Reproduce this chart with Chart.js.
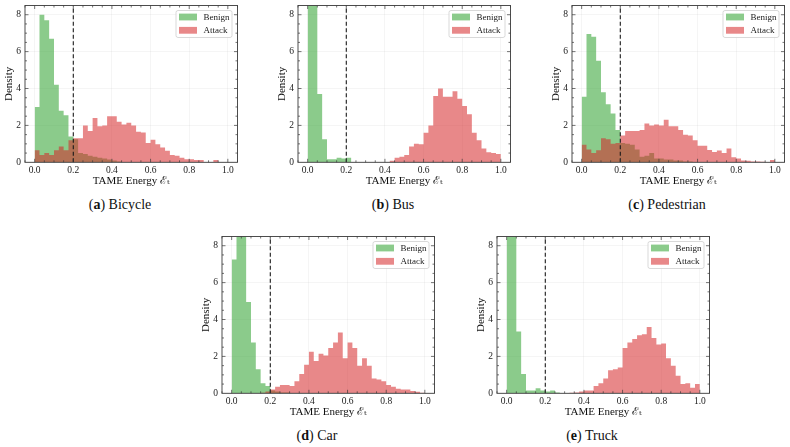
<!DOCTYPE html>
<html>
<head>
<meta charset="utf-8">
<script src="https://cdn.jsdelivr.net/npm/chart.js@4.4.0/dist/chart.umd.min.js"></script>
<style>
body { margin: 0; background: #fff; width: 790px; height: 447px; position: relative; overflow: hidden; font-family: "Liberation Serif", "DejaVu Serif", serif; }
.box { position: absolute; width: 244px; height: 190px; }
.cap { position: absolute; font-size: 14px; color: #111; transform: translateX(-50%); white-space: nowrap; }
</style>
</head>
<body>
<script>
// histogram bins: 40 bins of width 0.025 on [0, 1]
var BIN_W = 0.025;
var X_TICKS = [0, 0.2, 0.4, 0.6, 0.8, 1.0];
var Y_TICKS = [0, 2, 4, 6, 8];
var Y_MAX = 8.5;
var THRESHOLD = 0.2;

var bicycleBenign = [3.0, 8.0, 7.7, 6.7, 4.2, 2.8, 2.55, 1.4, 1.25, 0.5, 0.45, 0.35, 0.3, 0.25, 0.2, 0.15, 0.1, 0.05, 0, 0,
    0, 0, 0, 0, 0, 0, 0, 0, 0, 0, 0, 0, 0, 0, 0, 0, 0, 0, 0, 0];
var bicycleAttack = [0.65, 0.4, 0.5, 0.4, 0.65, 0.85, 0.65, 1.2, 1.3, 1.3, 2.0, 1.7, 2.4, 1.95, 2.0, 2.5, 2.5, 2.2, 2.05, 2.15,
    2.0, 1.65, 1.62, 1.05, 1.22, 0.98, 0.8, 0.62, 0.4, 0.35, 0.25, 0.16, 0.16, 0.13, 0.13, 0, 0, 0.13, 0, 0];

var busBenign = [19, 15, 3.7, 1.25, 0.17, 0.17, 0.25, 0.2, 0.25, 0, 0, 0, 0, 0, 0, 0, 0, 0, 0, 0,
    0, 0, 0, 0, 0, 0, 0, 0, 0, 0, 0, 0, 0, 0, 0, 0, 0, 0, 0, 0];
var busAttack = [0, 0, 0, 0, 0, 0, 0, 0, 0, 0, 0, 0, 0, 0, 0, 0, 0, 0.08, 0.25, 0.3,
    0.4, 0.85, 1.0, 0.98, 1.6, 2.0, 3.6, 4.0, 3.55, 3.55, 3.85, 3.45, 3.05, 2.6, 1.6, 1.2, 0.75, 0.55, 0.5, 0.45];

var pedBenign = [3.55, 6.95, 6.8, 5.5, 3.8, 3.15, 2.65, 1.75, 1.05, 1.0, 0.95, 0.7, 0.3, 0.35, 0.5, 0.2, 0.2, 0.15, 0.15, 0.1,
    0.1, 0.05, 0.05, 0, 0, 0, 0, 0, 0, 0, 0, 0, 0, 0, 0, 0, 0, 0, 0, 0];
var pedAttack = [0.95, 0.7, 0.5, 0.65, 1.3, 1.25, 1.0, 1.05, 1.45, 1.7, 1.7, 1.7, 1.75, 2.1, 2.0, 2.05, 2.0, 2.3, 1.95, 1.95,
    1.75, 1.5, 1.45, 1.2, 0.9, 0.9, 0.67, 0.56, 0.64, 0.5, 0.75, 0.27, 0.2, 0.1, 0.08, 0.05, 0.05, 0.03, 0.02, 0.12];

var carBenign = [7.25, 11.5, 11, 4.95, 2.75, 1.3, 0.55, 0.4, 0.15, 0.1, 0.05, 0.05, 0, 0, 0, 0, 0, 0, 0, 0,
    0, 0, 0, 0, 0, 0, 0, 0, 0, 0, 0, 0, 0, 0, 0, 0, 0, 0, 0, 0];
var carAttack = [0, 0, 0, 0, 0, 0, 0.03, 0.1, 0.2, 0.35, 0.45, 0.45, 0.4, 0.65, 1.05, 1.55, 2.25, 1.75, 2.15, 2.05,
    2.45, 2.75, 3.3, 1.9, 2.75, 2.45, 1.5, 1.9, 1.5, 0.8, 0.75, 0.65, 0.45, 0.35, 0.25, 0.2, 0.2, 0.12, 0.08, 0.03];

var truckBenign = [18, 16.6, 3.35, 1.05, 0.15, 0.15, 0.28, 0.15, 0.1, 0.15, 0.05, 0, 0, 0, 0, 0, 0, 0, 0, 0,
    0, 0, 0, 0, 0, 0, 0, 0, 0, 0, 0, 0, 0, 0, 0, 0, 0, 0, 0, 0];
var truckAttack = [0, 0, 0, 0, 0, 0, 0, 0, 0, 0, 0, 0, 0.02, 0.03, 0.05, 0.1, 0.15, 0.15, 0.4, 0.55,
    0.8, 1.25, 1.3, 1.4, 2.45, 2.75, 2.95, 3.15, 3.2, 3.6, 3.0, 2.65, 2.7, 1.9, 1.5, 0.95, 0.5, 0.55, 0.3, 0.5];

var GREEN = 'rgba(44, 160, 44, 0.55)';
var RED = 'rgba(214, 39, 40, 0.55)';
var SERIF = '"Liberation Serif", "DejaVu Serif", serif';

var panels = [
    {tag: 'a', name: 'Bicycle', benign: bicycleBenign, attack: bicycleAttack, left: 0, top: 0},
    {tag: 'b', name: 'Bus', benign: busBenign, attack: busAttack, left: 273, top: 0},
    {tag: 'c', name: 'Pedestrian', benign: pedBenign, attack: pedAttack, left: 547, top: 0},
    {tag: 'd', name: 'Car', benign: carBenign, attack: carAttack, left: 197, top: 231},
    {tag: 'e', name: 'Truck', benign: truckBenign, attack: truckAttack, left: 472, top: 231}
];

// step outline of a histogram: one point per left bin edge plus the closing edge at 1.0
function histPoints(vals) {
    var pts = vals.map(function(v, i) { return {x: i * BIN_W, y: v}; });
    pts.push({x: vals.length * BIN_W, y: vals[vals.length - 1]});
    return pts;
}

// frame, inward ticks (matplotlib style) and the boxed legend
var framePlugin = {
    id: 'framePlugin',
    afterDraw: function(chart) {
        var ctx = chart.ctx, a = chart.chartArea;
        var xs = chart.scales.x, ys = chart.scales.y;
        ctx.save();
        ctx.strokeStyle = '#3a3a3a';
        ctx.lineWidth = 0.9;
        ctx.strokeRect(a.left, a.top, a.right - a.left, a.bottom - a.top);

        function tickX(v, len) {
            var p = xs.getPixelForValue(v);
            ctx.beginPath();
            ctx.moveTo(p, a.bottom); ctx.lineTo(p, a.bottom - len);
            ctx.moveTo(p, a.top); ctx.lineTo(p, a.top + len);
            ctx.stroke();
        }
        function tickY(v, len) {
            var p = ys.getPixelForValue(v);
            ctx.beginPath();
            ctx.moveTo(a.left, p); ctx.lineTo(a.left + len, p);
            ctx.moveTo(a.right, p); ctx.lineTo(a.right - len, p);
            ctx.stroke();
        }
        ctx.lineWidth = 0.7;
        for (var i = -1; i <= 21; i++) {
            if (i % 4 === 0) tickX(i * 0.05, 3.5); else tickX(i * 0.05, 2);
        }
        for (var j = 1; j < 17; j++) {
            if (j % 4 === 0) tickY(j * 0.5, 3.5); else tickY(j * 0.5, 2);
        }

        // legend
        var bw = 56, bh = 27;
        var bx = a.right - 5.5 - bw, by = a.top + 5;
        ctx.beginPath();
        ctx.roundRect(bx, by, bw, bh, 2);
        ctx.fillStyle = 'rgba(255,255,255,0.85)';
        ctx.fill();
        ctx.strokeStyle = '#cfcfcf';
        ctx.lineWidth = 0.8;
        ctx.stroke();
        var items = [['Benign', GREEN], ['Attack', RED]];
        ctx.font = '9px ' + SERIF;
        ctx.textBaseline = 'middle';
        items.forEach(function(it, k) {
            var cy = by + 6.5 + k * 13.3;
            ctx.fillStyle = it[1];
            ctx.fillRect(bx + 3, cy - 3.4, 18, 6.8);
            ctx.fillStyle = '#222';
            ctx.fillText(it[0], bx + 27.5, cy + 0.5);
        });
        ctx.restore();
    }
};

panels.forEach(function(p) {
    var box = document.createElement('div');
    box.className = 'box';
    box.style.left = p.left + 'px';
    box.style.top = p.top + 'px';
    var cv = document.createElement('canvas');
    box.appendChild(cv);
    document.body.appendChild(box);

    var cap = document.createElement('div');
    cap.className = 'cap';
    cap.style.left = (p.left + 120) + 'px';
    cap.style.top = (p.top + 197) + 'px';
    cap.innerHTML = '(<b>' + p.tag + '</b>) ' + p.name;
    document.body.appendChild(cap);

    // 'before': each segment keeps the y of its left point (value of the bin)
    var histStyle = {stepped: 'before', fill: 'origin', borderWidth: 0, pointRadius: 0, tension: 0};

    new Chart(cv, {
        type: 'line',
        data: {
            datasets: [
                {label: 'threshold',
                 data: [{x: THRESHOLD, y: 0}, {x: THRESHOLD, y: Y_MAX}],
                 borderColor: '#1a1a1a', borderWidth: 1.1, borderDash: [4, 2.5],
                 pointRadius: 0, fill: false, order: 0},
                Object.assign({label: 'Attack', data: histPoints(p.attack), backgroundColor: RED, order: 1}, histStyle),
                Object.assign({label: 'Benign', data: histPoints(p.benign), backgroundColor: GREEN, order: 2}, histStyle)
            ]
        },
        options: {
            responsive: true,
            maintainAspectRatio: false,
            animation: false,
            layout: {padding: {top: 5.5, right: 6.5, left: 0, bottom: 0}},
            plugins: {legend: {display: false}, tooltip: {enabled: false}},
            scales: {
                x: {
                    type: 'linear', min: -0.05, max: 1.05, offset: false,
                    afterBuildTicks: function(s) { s.ticks = X_TICKS.map(function(v) { return {value: v}; }); },
                    afterFit: function(s) { s.height = 27.7; s.paddingLeft = 0; s.paddingRight = 0; },
                    ticks: {
                        callback: function(v) { return Number(v).toFixed(1); },
                        font: {family: SERIF, size: 9.5}, color: '#222', padding: 2.5,
                        maxRotation: 0, autoSkip: false
                    },
                    grid: {color: 'rgba(0,0,0,0.07)', lineWidth: 0.6, drawTicks: false},
                    border: {display: false},
                    title: {display: true, text: 'TAME Energy ℰₜ', font: {family: SERIF, size: 11},
                            color: '#111', padding: {top: 0, bottom: 2}}
                },
                y: {
                    min: 0, max: Y_MAX,
                    afterBuildTicks: function(s) { s.ticks = Y_TICKS.map(function(v) { return {value: v}; }); },
                    afterFit: function(s) { s.width = 25; s.paddingTop = 0; s.paddingBottom = 0; },
                    ticks: {
                        callback: function(v) { return String(v); },
                        font: {family: SERIF, size: 9.5}, color: '#222', padding: 4
                    },
                    grid: {color: 'rgba(0,0,0,0.07)', lineWidth: 0.6, drawTicks: false},
                    border: {display: false},
                    title: {display: true, text: 'Density', font: {family: SERIF, size: 11},
                            color: '#111', padding: {top: 3, bottom: 0}}
                }
            }
        },
        plugins: [framePlugin]
    });
});
</script>
</body>
</html>
